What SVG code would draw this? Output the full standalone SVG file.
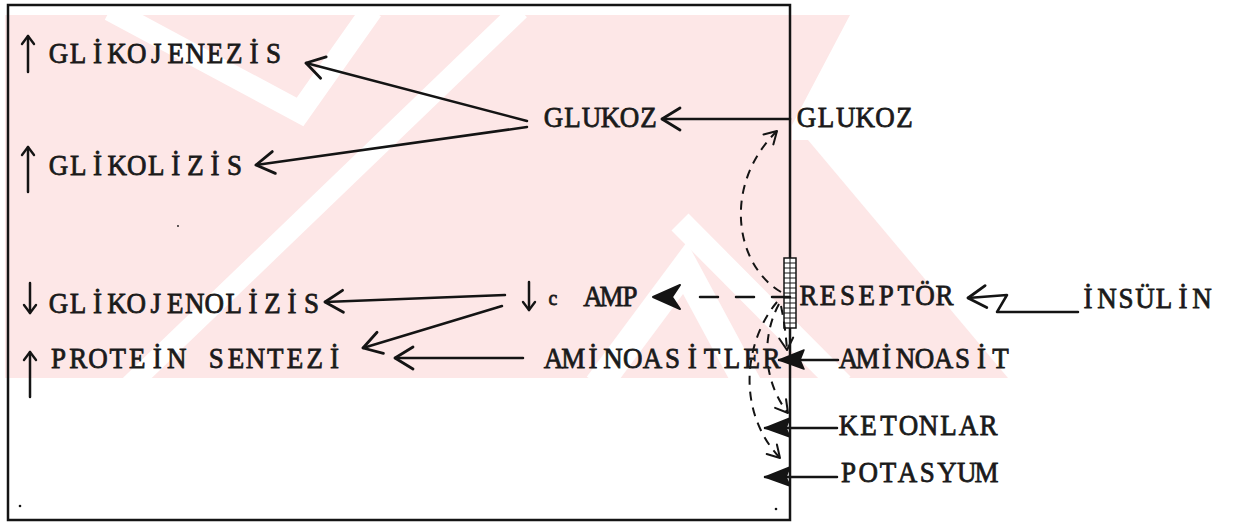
<svg xmlns="http://www.w3.org/2000/svg" width="1243" height="525" viewBox="0 0 1243 525">
<style>
  .t { font-family: "Liberation Serif", "DejaVu Serif", serif; font-size: 30px; fill: #1a1a1a; stroke: #1a1a1a; stroke-width: 0.8; text-anchor: middle; }
  .ln { fill: none; stroke: #141414; stroke-width: 2.5; stroke-linecap: round; stroke-linejoin: round; }
  .ds { fill: none; stroke: #141414; stroke-width: 2; stroke-dasharray: 9 7; }
  .frame { fill: none; stroke: #141414; stroke-width: 2.5; }
  .wm { fill: #fde7e7; }
  .wg { fill: none; stroke: #ffffff; stroke-linejoin: miter; }
</style>
<defs>
  <clipPath id="wmclip"><rect x="0" y="15" width="1243" height="363"/></clipPath>
  <marker id="open" markerUnits="userSpaceOnUse" viewBox="-22 -14 24 28" refX="0" refY="0" markerWidth="24" markerHeight="28" orient="auto" overflow="visible">
    <path d="M -18 -11 L 0 0 L -18 11" fill="none" stroke="#141414" stroke-width="2.8" stroke-linecap="round" stroke-linejoin="round"/>
  </marker>
  <marker id="small" markerUnits="userSpaceOnUse" viewBox="-12 -10 14 20" refX="0" refY="0" markerWidth="14" markerHeight="20" orient="auto" overflow="visible">
    <path d="M -8 -6 L 0 0 L -8 6" fill="none" stroke="#141414" stroke-width="2.4" stroke-linecap="round" stroke-linejoin="round"/>
  </marker>
  <marker id="dopen" markerUnits="userSpaceOnUse" viewBox="-14 -10 16 20" refX="0" refY="0" markerWidth="16" markerHeight="20" orient="auto" overflow="visible">
    <path d="M -12 -7 L 0 0 L -12 7" fill="none" stroke="#141414" stroke-width="2" stroke-linecap="round" stroke-linejoin="round"/>
  </marker>
  <marker id="solid" markerUnits="userSpaceOnUse" viewBox="-27 -11 29 22" refX="0" refY="0" markerWidth="29" markerHeight="22" orient="auto" overflow="visible">
    <path d="M 0 0 L -25 -9 L -21 0 L -25 10 Z" fill="#141414" stroke="#141414" stroke-width="1.5" stroke-linejoin="round"/>
  </marker>
</defs>

<rect width="1243" height="525" fill="#ffffff"/>

<g id="watermark" clip-path="url(#wmclip)">
  <polygon class="wm" points="5,15 850,15 792,125 792,378 5,378"/>
  <polygon class="wm" points="792,140 808,140 1008,378 792,378"/>
  <polyline class="wg" points="110,10 300,112 372,10" stroke-width="22"/>
  <polyline class="wg" points="520,10 130,385" stroke-width="20"/>
  <polyline class="wg" points="598,385 685,268 748,385" stroke-width="28"/>
  <polyline class="wg" points="680,222 842,385" stroke-width="24"/>
</g>

<g id="frame">
  <rect class="frame" x="8" y="5" width="782" height="515"/>
  <circle cx="20" cy="506" r="1.3" fill="#141414"/>
  <circle cx="776" cy="509" r="1.3" fill="#141414"/>
  <circle cx="178" cy="226" r="0.9" fill="#141414"/>
</g>

<g id="receptor">
  <rect x="784" y="258" width="12" height="70" fill="#fff" stroke="#141414" stroke-width="1.5"/>
  <path d="M790 258 V328 M784 263 H796 M784 268 H796 M784 273 H796 M784 278 H796 M784 283 H796 M784 288 H796 M784 293 H796 M784 298 H796 M784 303 H796 M784 308 H796 M784 313 H796 M784 318 H796 M784 323 H796" stroke="#141414" stroke-width="1"/>
</g>

<g id="connectors">
  <path class="ln" d="M 790 119 L 662 119" marker-end="url(#open)"/>
  <path class="ln" d="M 527 121 L 306 63" marker-end="url(#open)"/>
  <path class="ln" d="M 527 127 L 256 165" marker-end="url(#open)"/>
  <path class="ln" d="M 505 295 L 325 302" marker-end="url(#open)"/>
  <path class="ln" d="M 502 306 L 363 348" marker-end="url(#open)"/>
  <path class="ln" d="M 523 358 L 395 358" marker-end="url(#open)"/>
  <path class="ln" d="M 790 297 L 682 297" stroke-dasharray="18 18" stroke-linecap="butt"/>
  <path d="M 653 297 L 680 285 L 672 297 L 680 309 Z" fill="#141414" stroke="#141414" stroke-width="2" stroke-linejoin="round"/>
  <path class="ln" d="M 1078 312 L 997 312 L 1007 295 L 968 298" marker-end="url(#open)"/>
  <path class="ln" d="M 838 360 L 779 360" marker-end="url(#solid)"/>
  <path class="ln" d="M 837 428 L 765 428" marker-end="url(#solid)"/>
  <path class="ln" d="M 837 477 L 765 477" marker-end="url(#solid)"/>
  <path class="ds" d="M 781 292 C 735 265, 722 185, 777 131" marker-end="url(#dopen)"/>
  <path class="ds" d="M 781 306 C 784 320, 786 335, 787 350" marker-end="url(#dopen)"/>
  <path class="ds" d="M 779 304 C 762 335, 762 380, 788 413" marker-end="url(#dopen)"/>
  <path class="ds" d="M 777 302 C 745 340, 735 410, 780 458" marker-end="url(#dopen)"/>
  <path class="ln" d="M 28 72 L 28 36" marker-end="url(#small)"/>
  <path class="ln" d="M 28 192 L 28 147" marker-end="url(#small)"/>
  <path class="ln" d="M 30 283 L 30 313" marker-end="url(#small)"/>
  <path class="ln" d="M 30 397 L 30 352" marker-end="url(#small)"/>
  <path class="ln" d="M 529 282 L 529 310" marker-end="url(#small)"/>
</g>

<g id="glikojenezis"><text class="t" transform="scale(0.9,1)" x="65.0 86.7 108.4 130.1 151.9 173.6 195.3 217.0 238.8 260.4 282.2 303.9" y="63">GLİKOJENEZİS</text></g>
<g id="glikolizis"><text class="t" transform="scale(0.9,1)" x="65.0 86.8 108.4 130.2 151.9 173.7 195.3 217.1 238.8 260.6" y="175">GLİKOLİZİS</text></g>
<g id="glikojenolizis"><text class="t" transform="scale(0.9,1)" x="65.0 86.6 108.2 129.9 151.5 173.1 194.7 216.4 238.0 259.6 281.2 302.8 324.5 346.1" y="313">GLİKOJENOLİZİS</text></g>
<g id="protein-sentezi"><text class="t" transform="scale(0.9,1)" x="65.0 86.9 108.8 130.7 152.6 174.6 196.4 218.3 240.2 262.1 284.0 305.9 327.8 349.7 371.6" y="368">PROTEİN SENTEZİ</text></g>
<g id="glukoz-in"><text class="t" transform="scale(0.9,1)" x="615.0 636.1 657.2 678.3 699.4 720.6" y="127">GLUKOZ</text></g>
<g id="glukoz-out"><text class="t" transform="scale(0.9,1)" x="896.1 917.9 939.7 961.4 983.2 1005.0" y="127">GLUKOZ</text></g>
<g id="camp"><text class="t" transform="scale(0.9,1)" x="614.4" y="305" style="font-size:22px">c</text><text class="t" transform="scale(0.9,1)" x="658.9 679.4 700.0" y="306">AMP</text></g>
<g id="aminoasitler"><text class="t" transform="scale(0.9,1)" x="615.0 637.0 659.0 681.1 703.1 725.1 747.1 769.1 791.2 813.2 835.2 857.2" y="368">AMİNOASİTLER</text></g>
<g id="reseptor"><text class="t" transform="scale(0.9,1)" x="898.3 919.9 941.6 963.1 984.7 1006.3 1027.9 1049.4" y="305">RESEPTÖR</text></g>
<g id="insulin"><text class="t" transform="scale(0.9,1)" x="1208.9 1230.0 1251.1 1272.2 1293.3 1314.4 1335.6" y="308">İNSÜLİN</text></g>
<g id="aminoasit"><text class="t" transform="scale(0.9,1)" x="942.8 963.9 985.0 1006.1 1027.2 1048.3 1069.4 1090.6 1111.7" y="368">AMİNOASİT</text></g>
<g id="ketonlar"><text class="t" transform="scale(0.9,1)" x="942.8 965.0 987.2 1009.4 1031.7 1053.9 1076.1 1098.3" y="435">KETONLAR</text></g>
<g id="potasyum"><text class="t" transform="scale(0.9,1)" x="942.8 964.7 986.6 1008.4 1030.3 1052.3 1074.2 1096.1" y="482">POTASYUM</text></g>
</svg>
